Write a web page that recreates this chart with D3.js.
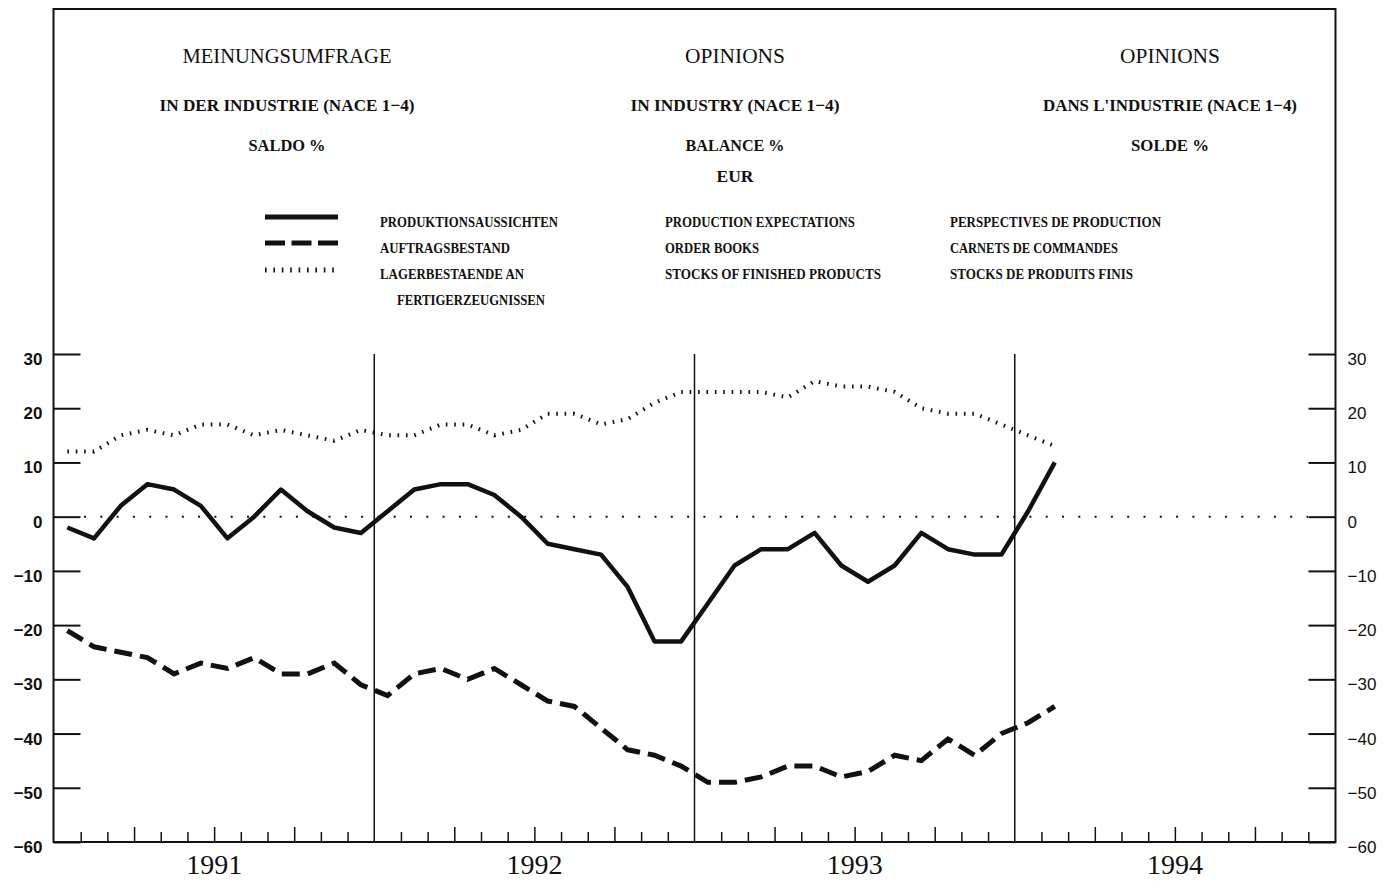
<!doctype html>
<html>
<head>
<meta charset="utf-8">
<title>Opinions in industry (NACE 1-4)</title>
<script src="https://cdn.jsdelivr.net/npm/d3@7"></script>
<style>
    body { margin: 0; background: #fff; }
    svg { display: block; }
    .ttl { font-family: "Liberation Serif", serif; fill: #111; }
    .leg { font-family: "Liberation Serif", serif; font-weight: bold; font-size: 14px; fill: #111; }
    .yr { font-family: "Liberation Serif", serif; font-size: 28px; fill: #111; }
    .ax text { font-family: "Liberation Sans", Arial, sans-serif; font-size: 17px; fill: #111; }
    .ax.left text { font-weight: bold; }
</style>
</head>
<body>
<div id="plot"></div>
<script>
// monthly values, Jan 1991 .. Feb 1994 (balance %)
var production = [-2, -4, 2, 6, 5, 2, -4, 0, 5, 1, -2, -3,
                  1, 5, 6, 6, 4, 0, -5, -6, -7, -13, -23, -23,
                  -16, -9, -6, -6, -3, -9, -12, -9, -3, -6, -7, -7,
                  1, 10];
var orders = [-21, -24, -25, -26, -29, -27, -28, -26, -29, -29, -27, -31,
              -33, -29, -28, -30, -28, -31, -34, -35, -39, -43, -44, -46,
              -49, -49, -48, -46, -46, -48, -47, -44, -45, -41, -44, -40,
              -38, -35];
var stocks = [12, 12, 15, 16, 15, 17, 17, 15, 16, 15, 14, 16,
              15, 15, 17, 17, 15, 16, 19, 19, 17, 18, 21, 23,
              23, 23, 23, 22, 25, 24, 24, 23, 20, 19, 19, 17,
              15, 13];

var years = [1991, 1992, 1993, 1994];
var yTicks = [-60, -50, -40, -30, -20, -10, 0, 10, 20, 30];

var titles = [
    ["MEINUNGSUMFRAGE", "IN DER INDUSTRIE (NACE 1\u22124)", "SALDO %", ""],
    ["OPINIONS", "IN INDUSTRY (NACE 1\u22124)", "BALANCE %", "EUR"],
    ["OPINIONS", "DANS L'INDUSTRIE (NACE 1\u22124)", "SOLDE %", ""]
];
var legendDe = ["PRODUKTIONSAUSSICHTEN", "AUFTRAGSBESTAND", "LAGERBESTAENDE AN", "FERTIGERZEUGNISSEN"];
var legendEn = ["PRODUCTION EXPECTATIONS", "ORDER BOOKS", "STOCKS OF FINISHED PRODUCTS"];
var legendFr = ["PERSPECTIVES DE PRODUCTION", "CARNETS DE COMMANDES", "STOCKS DE PRODUITS FINIS"];

var W = 1399, H = 881;
// plot box (note: "top" would clash with window.top)
var pLeft = 54, pRight = 1335, pTop = 354, pBottom = 842;

var svg = d3.select('#plot').append('svg')
    .attr('width', W).attr('height', H);

// x in months since Jan 1991, y in balance %
var x = d3.scaleLinear().domain([0, 48]).range([pLeft, pRight]);
var y = d3.scaleLinear().domain([-60, 30]).range([pBottom, pTop]);

// outer frame
svg.append('rect')
    .attr('x', pLeft - 0.5).attr('y', 9)
    .attr('width', pRight - pLeft + 1).attr('height', pBottom - 9)
    .style('fill', 'none').style('stroke', '#111').style('stroke-width', 2);

// header text
var colX = [287, 735, 1170];
var rowY = [63, 111, 151, 182];
var rowW = [
    [209, 255, 77, 0],
    [100, 209, 99, 37],
    [100, 254, 78, 0]
];
titles.forEach(function(col, c){
    col.forEach(function(t, r){
        if (!t) return;
        svg.append('text').attr('class', 'ttl')
            .attr('x', colX[c]).attr('y', rowY[r])
            .attr('text-anchor', 'middle')
            .style('font-size', r === 0 ? '22px' : '17px')
            .style('font-weight', r === 0 ? 'normal' : 'bold')
            .attr('textLength', rowW[c][r])
            .attr('lengthAdjust', 'spacingAndGlyphs')
            .text(t);
    });
});

// legend
var legY = [217, 243, 270];
var legTxtY = [227, 253, 279, 305];
var styles = [
    {w: 5, dash: null},
    {w: 5, dash: '20,6.5'},
    {w: 5, dash: '1.6,6.8'}
];
styles.forEach(function(s, i){
    svg.append('line')
        .attr('x1', 265).attr('x2', 338)
        .attr('y1', legY[i]).attr('y2', legY[i])
        .style('stroke', '#111').style('stroke-width', s.w)
        .style('stroke-dasharray', s.dash);
});
var deW = [178, 130, 144, 148];
legendDe.forEach(function(t, i){
    svg.append('text').attr('class', 'leg')
        .attr('x', i === 3 ? 397 : 380).attr('y', legTxtY[i])
        .attr('textLength', deW[i]).attr('lengthAdjust', 'spacingAndGlyphs')
        .text(t);
});
var enW = [190, 94, 216];
legendEn.forEach(function(t, i){
    svg.append('text').attr('class', 'leg')
        .attr('x', 665).attr('y', legTxtY[i])
        .attr('textLength', enW[i]).attr('lengthAdjust', 'spacingAndGlyphs')
        .text(t);
});
var frW = [211, 168, 183];
legendFr.forEach(function(t, i){
    svg.append('text').attr('class', 'leg')
        .attr('x', 950).attr('y', legTxtY[i])
        .attr('textLength', frW[i]).attr('lengthAdjust', 'spacingAndGlyphs')
        .text(t);
});

// y axes, ticks pointing inwards
var yl = svg.append('g').attr('class', 'ax left')
    .attr('transform', 'translate(' + (pLeft - 0.5) + ',0)')
    .call(d3.axisLeft(y).tickValues(yTicks).tickSize(-27).tickPadding(11));
var yr = svg.append('g').attr('class', 'ax right')
    .attr('transform', 'translate(' + (pRight + 0.5) + ',0)')
    .call(d3.axisRight(y).tickValues(yTicks).tickSize(-27).tickPadding(12));
[yl, yr].forEach(function(g){
    g.select('.domain').remove();
    g.selectAll('line').style('stroke', '#111').style('stroke-width', 2);
    g.selectAll('text').attr('dy', '0.62em');
});

// month ticks along the bottom, quarters a bit longer
var months = d3.range(1, 48).filter(function(m){ return m % 12 !== 0; });
var xa = svg.append('g').attr('class', 'ax bottom')
    .attr('transform', 'translate(0,' + pBottom + ')')
    .call(d3.axisBottom(x).tickValues(months).tickSize(0).tickFormat(''));
xa.select('.domain').remove();
xa.selectAll('.tick line')
    .attr('y2', function(m){ return m % 3 === 0 ? -15 : -10; })
    .style('stroke', '#111').style('stroke-width', 1.5);

// year separators
svg.selectAll('.sep').data(years.slice(1)).enter().append('line')
    .attr('class', 'sep')
    .attr('x1', function(d){ return x((d - 1991) * 12); })
    .attr('x2', function(d){ return x((d - 1991) * 12); })
    .attr('y1', pTop).attr('y2', pBottom)
    .style('stroke', '#111').style('stroke-width', 1.5);

// year labels under the middle of each year
svg.selectAll('.yr').data(years).enter().append('text')
    .attr('class', 'yr')
    .attr('x', function(d){ return x((d - 1991) * 12 + 6); })
    .attr('y', 874)
    .attr('text-anchor', 'middle')
    .text(function(d){ return d; });

// dotted zero line
svg.append('line')
    .attr('x1', pLeft + 30).attr('x2', pRight - 27)
    .attr('y1', y(0)).attr('y2', y(0))
    .style('stroke', '#111').style('stroke-width', 2)
    .style('stroke-dasharray', '2,14.3');

// the three series, plotted at mid-month
var line = d3.line()
    .x(function(d, i){ return x(i + 0.5); })
    .y(function(d){ return y(d); });

svg.append('path').datum(stocks)
    .attr('d', line)
    .style('fill', 'none').style('stroke', '#111')
    .style('stroke-width', 4).style('stroke-dasharray', '1.6,6.8');

svg.append('path').datum(orders)
    .attr('d', line)
    .style('fill', 'none').style('stroke', '#111')
    .style('stroke-width', 5).style('stroke-dasharray', '18,8');

svg.append('path').datum(production)
    .attr('d', line)
    .style('fill', 'none').style('stroke', '#111')
    .style('stroke-width', 4.5).style('stroke-linejoin', 'round');
</script>
</body>
</html>
